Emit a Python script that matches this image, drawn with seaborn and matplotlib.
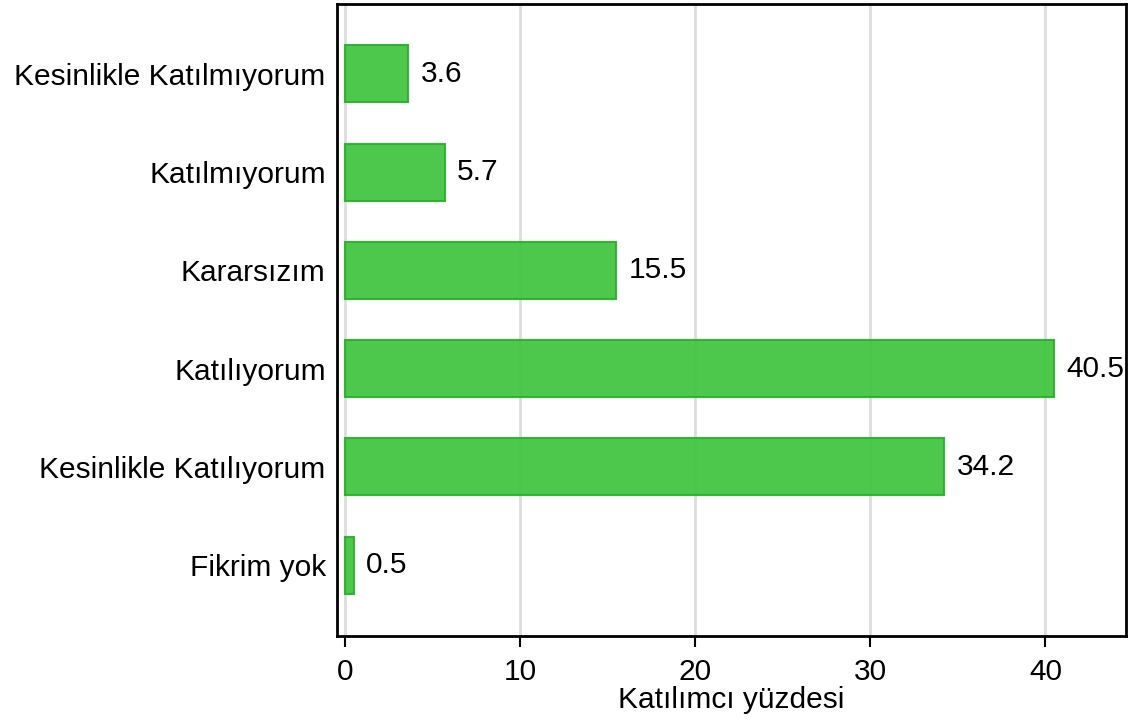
import seaborn as sns
import matplotlib.pyplot as plt
import pandas as pd

categories = ["Kesinlikle Katılmıyorum", "Katılmıyorum", "Kararsızım",
              "Katılıyorum", "Kesinlikle Katılıyorum", "Fikrim yok"]
percentages = [3.6, 5.7, 15.5, 40.5, 34.2, 0.5]
x_ticks = [0, 10, 20, 30, 40]

df = pd.DataFrame({"kategori": categories, "yuzde": percentages})

sns.set_style("white")
plt.rcParams["font.family"] = ["Liberation Sans", "DejaVu Sans"]
plt.rcParams["text.color"] = "black"
plt.rcParams["xtick.color"] = "black"
plt.rcParams["ytick.color"] = "black"
plt.rcParams["axes.labelcolor"] = "black"

fig = plt.figure(figsize=(11.34, 7.24), dpi=100)
ax = fig.add_axes([0.297, 0.1215, 0.696, 0.873])

ax.grid(axis="x", color="#dddddd", linewidth=2, zorder=0)
ax.set_axisbelow(True)

sns.barplot(data=df, x="yuzde", y="kategori", orient="h", ax=ax,
            color="#3fc43f", saturation=1, alpha=0.93, width=0.58,
            edgecolor="#26b226", linewidth=1.5, zorder=2)

ax.bar_label(ax.containers[0], fmt="%.1f", padding=9, fontsize=21.5)

ax.set_xlim(-0.46, 44.6)
ax.set_ylim(5.72, -0.71)
ax.set_xticks(x_ticks)
ax.tick_params(axis="x", labelsize=21.5, length=8, width=1.5,
               direction="out", bottom=True, pad=8)
ax.tick_params(axis="y", labelsize=21.5, length=0, pad=8)
ax.set_xlabel("Katılımcı yüzdesi", fontsize=21.5, labelpad=0)
ax.set_ylabel("")

for side in ["left", "right", "top", "bottom"]:
    ax.spines[side].set_visible(True)
    ax.spines[side].set_color("black")
    ax.spines[side].set_linewidth(2)

fig.savefig("out.png", dpi=100)
